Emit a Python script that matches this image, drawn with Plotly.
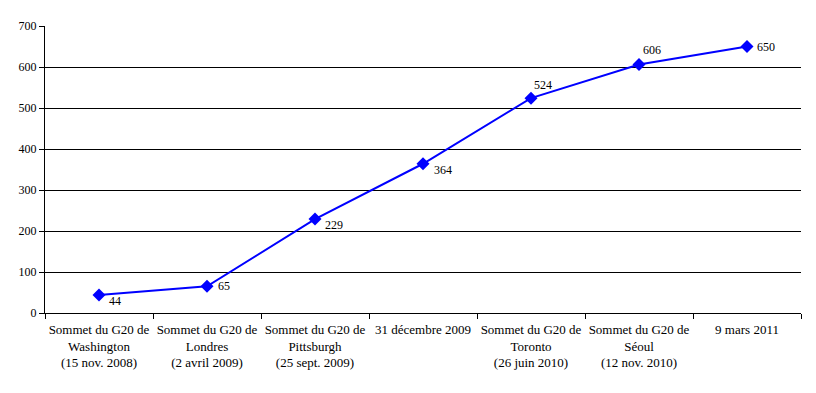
import plotly.graph_objects as go

categories = [
    "Sommet du G20 de<br>Washington<br>(15 nov. 2008)",
    "Sommet du G20 de<br>Londres<br>(2 avril 2009)",
    "Sommet du G20 de<br>Pittsburgh<br>(25 sept. 2009)",
    "31 décembre 2009",
    "Sommet du G20 de<br>Toronto<br>(26 juin 2010)",
    "Sommet du G20 de<br>Séoul<br>(12 nov. 2010)",
    "9 mars 2011",
]
values = [44, 65, 229, 364, 524, 606, 650]

# label offsets (pixels) relative to each point: style only
label_dx = [8, 9, 8, 9, 1, 2, 8]
label_dy = [-6, 0, -6, -6, 13, 15, 0]

font = "Liberation Serif, Times New Roman, serif"

fig = go.Figure(go.Scatter(
    x=categories, y=values, mode="lines+markers",
    line=dict(color="#0000FF", width=2),
    marker=dict(symbol="diamond", size=10, color="#0000FF"),
    showlegend=False,
))

for c, v, dx, dy in zip(categories, values, label_dx, label_dy):
    fig.add_annotation(
        x=c, y=v, text=str(v), showarrow=False,
        xanchor="left", yanchor="middle", xshift=dx, yshift=dy,
        font=dict(family=font, size=12, color="black"),
    )

fig.update_layout(
    width=808, height=385,
    margin=dict(l=37, r=15, t=18, b=80),
    paper_bgcolor="white", plot_bgcolor="white",
    font=dict(family=font, size=13, color="black"),
)
fig.update_xaxes(
    type="category", tickson="boundaries", ticks="outside", ticklen=5,
    tickcolor="black", showline=True, linecolor="black", linewidth=1,
    showgrid=False, tickfont=dict(family=font, size=13), range=[-0.5, 6.5],
    ticklabelstandoff=4, tickangle=0, automargin=False,
)
fig.update_yaxes(
    range=[0, 700], dtick=100, ticks="outside", ticklen=5, tickcolor="black",
    showline=True, linecolor="black", linewidth=1,
    showgrid=True, gridcolor="black", gridwidth=1, zeroline=False,
    tickfont=dict(family=font, size=12), automargin=False,
)

fig.write_html("out.html")
